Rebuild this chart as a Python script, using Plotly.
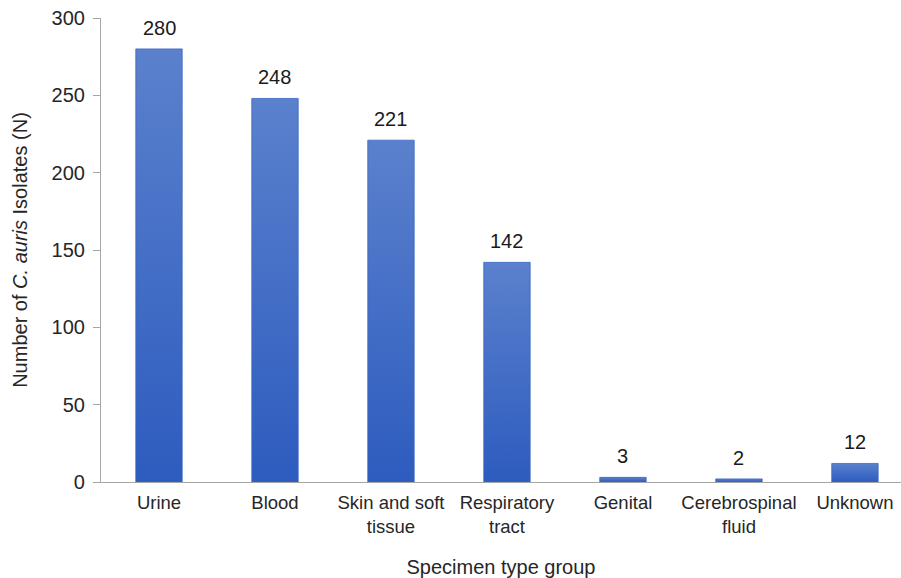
import plotly.graph_objects as go

categories = ["Urine", "Blood", "Skin and soft<br>tissue", "Respiratory<br>tract",
              "Genital", "Cerebrospinal<br>fluid", "Unknown"]
counts = [280, 248, 221, 142, 3, 2, 12]
y_ticks = [0, 50, 100, 150, 200, 250, 300]

BAR_HALF = 0.2
FONT = "Liberation Sans, Arial, sans-serif"
TEXT = "#262626"

fig = go.Figure()

# each bar drawn as a filled shape with a vertical gradient (light top, dark bottom)
for i, v in enumerate(counts):
    fig.add_trace(go.Scatter(
        x=[i - BAR_HALF, i - BAR_HALF, i + BAR_HALF, i + BAR_HALF, i - BAR_HALF],
        y=[0, v, v, 0, 0],
        mode="lines",
        line=dict(width=0.8, color="#3a66c4"),
        fill="toself",
        fillgradient=dict(type="vertical",
                          colorscale=[[0, "#2d5cbf"], [1, "#5b81cd"]]),
        hoverinfo="skip",
        showlegend=False,
    ))

# value labels above bars
for i, v in enumerate(counts):
    fig.add_annotation(
        x=i, y=v, text=str(v), showarrow=False,
        yanchor="bottom", yshift=8,
        font=dict(family=FONT, size=20, color="#1a1a1a"),
    )

fig.update_layout(
    width=901, height=578,
    margin=dict(l=101, r=0, t=18, b=96),
    plot_bgcolor="white",
    paper_bgcolor="white",
    font=dict(family=FONT, size=19, color=TEXT),
    xaxis=dict(
        range=[-0.5, 6.397],
        tickmode="array",
        tickvals=list(range(len(categories))),
        ticktext=categories,
        showgrid=False,
        zeroline=False,
        showline=True,
        linecolor="#a6a6a6",
        linewidth=1.2,
        ticks="",
        ticklabelstandoff=4,
        tickfont=dict(size=18.5, color=TEXT),
        title=dict(text="Specimen type group", font=dict(size=20, color=TEXT), standoff=24),
    ),
    yaxis=dict(
        range=[0, 300],
        tickvals=y_ticks,
        showgrid=False,
        zeroline=False,
        showline=True,
        linecolor="#a6a6a6",
        linewidth=1.2,
        ticks="outside",
        ticklen=7,
        tickcolor="#a6a6a6",
        ticklabelstandoff=4,
        tickfont=dict(size=20, color=TEXT),
        title=dict(text="Number of <i>C. auris</i> Isolates (N)",
                   font=dict(size=20, color=TEXT), standoff=18),
    ),
)

fig.write_html("out.html")
